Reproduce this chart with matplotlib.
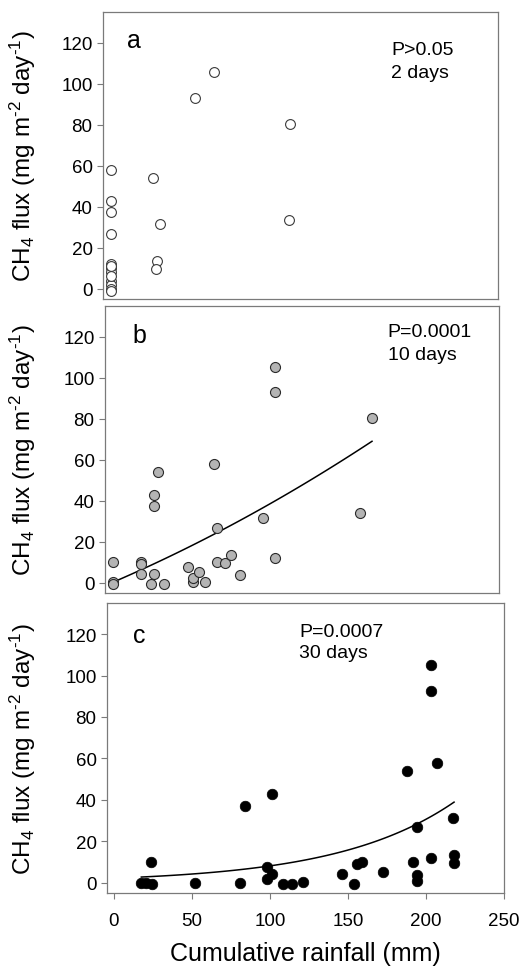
import numpy as np
import matplotlib
matplotlib.use("Agg")
import matplotlib.pyplot as plt

plt.rcParams['font.family'] = ['Liberation Sans', 'DejaVu Sans']
plt.rcParams['mathtext.fontset'] = 'custom'
plt.rcParams['mathtext.rm'] = 'Liberation Sans'
plt.rcParams['mathtext.default'] = 'regular'

# panel a: 2 days cumulative rainfall
rain_a = [1, 1, 1, 1, 1, 1, 1, 1, 1, 1, 1, 1, 1,
          27.8, 30.4, 29.9, 32.3, 55, 67, 116, 115.7]
flux_a = [58, 43, 37.4, 26.8, 12.2, 10, 8, 4, 2, 0, -1, 11, 6,
          53.8, 13.7, 9.4, 31.4, 93, 105.5, 80.2, 33.7]

# panel b: 10 days
rain_b = [0.9, 0.9, 0.9, 18.6, 18.6, 18.6, 27.2, 27.2, 29.5, 27.2, 25.5, 34,
          49.4, 52.2, 52.2, 56.5, 60.3, 66.1, 67.8, 67.8, 73, 77.2, 82.6,
          97.7, 105.6, 105.6, 105.6, 160.5, 168]
flux_b = [9.9, 0.5, -0.8, 10, 9, 4.2, 42.9, 37.2, 53.9, 4.2, -0.6, -0.6,
          7.8, 0.5, 2.3, 5.4, 0.6, 58, 26.8, 10, 9.4, 13.5, 3.6,
          31.5, 105.2, 92.9, 12, 34, 80.2]

# panel c: 30 days
rain_c = [17.6, 20.3, 24.4, 24, 52, 81, 84.3, 101.4, 98.4, 98.4, 101.6,
          108.7, 114.2, 121.5, 146.5, 154, 156.1, 158.7, 172.6, 187.7,
          191.8, 194, 194, 194, 203, 203, 203, 206.8, 217, 218, 218]
flux_c = [0, 0, -0.8, 10, -0.3, 0, 37.1, 43, 7.7, 1.6, 4,
          -0.8, -0.8, 0.1, 4.2, -0.8, 8.9, 10, 5.1, 53.8,
          10, 27.1, 3.5, 0.8, 105.3, 92.7, 11.9, 58, 31.4, 13.5, 9.3]

# fitted curves
fit_b = [0.000511, 0.3249, 0.0]      # quadratic coefficients
fit_c = [2.14, 0.0133]               # y = a * exp(b x)

panel_letters = ['a', 'b', 'c']
p_texts = ['P>0.05', 'P=0.0001', 'P=0.0007']
day_texts = ['2 days', '10 days', '30 days']
yticks = [0, 20, 40, 60, 80, 100, 120]
xticks = [0, 50, 100, 150, 200, 250]

fig = plt.figure(figsize=(5.28, 9.70), dpi=100)
W, H = 528, 970
boxes = [(103, 498, 13, 300), (105, 499, 307, 594), (107, 504, 604, 894)]
axes = []
for l, r, t, b in boxes:
    axes.append(fig.add_axes([l / W, 1 - b / H, (r - l) / W, (b - t) / H]))

ax_a, ax_b, ax_c = axes

ax_a.scatter(rain_a, flux_a, s=50, facecolors='white', edgecolors='#3a3a3a',
             linewidths=0.8, zorder=3)
ax_b.scatter(rain_b, flux_b, s=52, facecolors='#b4b4b4', edgecolors='#2a2a2a',
             linewidths=0.8, zorder=3)
ax_c.scatter(rain_c, flux_c, s=58, facecolors='black', edgecolors='black',
             linewidths=0.5, zorder=3)

xb = np.linspace(min(rain_b), max(rain_b), 100)
ax_b.plot(xb, np.polyval(fit_b, xb), color='black', lw=1.1, zorder=2)
xc = np.linspace(min(rain_c), max(rain_c), 100)
ax_c.plot(xc, fit_c[0] * np.exp(fit_c[1] * xc), color='black', lw=1.1, zorder=2)

letter_pos = [(0.06, 0.878), (0.070, 0.873), (0.066, 0.864)]
p_pos = [(0.729, 0.854, 0.774), (0.7175, 0.894, 0.815), (0.4836, 0.887, 0.813)]

ylab = r'CH$_4$ flux (mg m$^{\text{-2}}$ day$^{\text{-1}}$)'

for i, ax in enumerate(axes):
    ax.set_xlim(-4.4, 250)
    ax.set_ylim(-5, 135)
    ax.set_yticks(yticks)
    for sp in ax.spines.values():
        sp.set_color('#7a7a7a')
        sp.set_linewidth(0.9)
    ax.tick_params(axis='y', direction='out', length=4.5, width=0.8,
                   color='#7a7a7a', labelsize=13.5, pad=3)
    if i < 2:
        ax.set_xticks([])
    else:
        ax.set_xticks(xticks)
        ax.tick_params(axis='x', direction='out', length=4, width=0.8,
                       color='#7a7a7a', labelsize=13.5, pad=10)
        ax.set_xlabel('Cumulative rainfall (mm)', fontsize=18, labelpad=8)
    ax.set_ylabel(ylab, fontsize=17.5)
    l, r, t, b = boxes[i]
    ax.yaxis.set_label_coords((38 - l) / (r - l), 0.5)
    lx, ly = letter_pos[i]
    ax.text(lx, ly, panel_letters[i], transform=ax.transAxes, fontsize=18,
            ha='left', va='baseline')
    px, py1, py2 = p_pos[i]
    ax.text(px, py1, p_texts[i], transform=ax.transAxes, fontsize=14,
            ha='left', va='baseline')
    ax.text(px, py2, day_texts[i], transform=ax.transAxes, fontsize=14,
            ha='left', va='baseline')

fig.savefig('out.png', dpi=100)
